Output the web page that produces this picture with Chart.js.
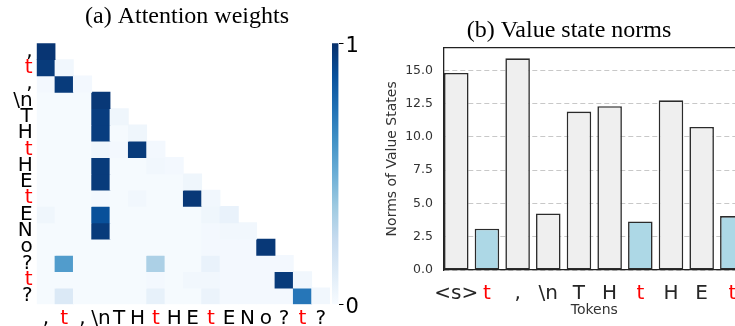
<!DOCTYPE html>
<html>
<head>
<meta charset="utf-8">
<script src="https://cdn.jsdelivr.net/npm/chart.js@4.4.1/dist/chart.umd.min.js"></script>
<style>
  html, body { margin: 0; padding: 0; background: #fff; overflow: hidden; width: 735px; height: 326px; }
  canvas { position: absolute; top: 0; }
</style>
</head>
<body>
<canvas id="heat" width="374" height="326" style="left:0px"></canvas>
<canvas id="cbar" width="74" height="326" style="left:300px"></canvas>
<canvas id="bars" width="390" height="326" style="left:374px"></canvas>
<script>
// ---------- data ----------
const heatTokens = [',', 't', ',', '\\n', 'T', 'H', 't', 'H', 'E', 't', 'E', 'N', 'o', '?', 't', '?'];
// lower-triangular attention rows (row i = query token i, columns 0..i)
const attnRows = [
  [0.98],
  [0.96, 0.03],
  [0.02, 0.96, 0.02],
  [0.01, 0.01, 0.01, 0.97],
  [0.01, 0.01, 0.01, 0.95, 0.04],
  [0.01, 0.01, 0.01, 0.95, 0.01, 0.04],
  [0.01, 0.01, 0.01, 0.04, 0.02, 0.96, 0.02],
  [0.01, 0.01, 0.01, 0.96, 0.01, 0.01, 0.03, 0.02],
  [0.01, 0.01, 0.01, 0.96, 0.01, 0.01, 0.01, 0.01, 0.04],
  [0.01, 0.01, 0.01, 0.02, 0.01, 0.03, 0.01, 0.01, 0.97, 0.03],
  [0.04, 0.01, 0.01, 0.88, 0.01, 0.01, 0.01, 0.01, 0.01, 0.04, 0.07],
  [0.01, 0.01, 0.01, 0.96, 0.01, 0.01, 0.01, 0.01, 0.01, 0.02, 0.03, 0.03],
  [0.01, 0.01, 0.01, 0.01, 0.01, 0.01, 0.01, 0.01, 0.01, 0.02, 0.02, 0.02, 0.97],
  [0.01, 0.58, 0.01, 0.01, 0.01, 0.01, 0.33, 0.01, 0.01, 0.07, 0.02, 0.02, 0.02, 0.02],
  [0.01, 0.01, 0.01, 0.01, 0.01, 0.01, 0.02, 0.01, 0.03, 0.03, 0.02, 0.02, 0.02, 0.96, 0.03],
  [0.01, 0.14, 0.01, 0.01, 0.01, 0.01, 0.08, 0.01, 0.01, 0.06, 0.02, 0.02, 0.02, 0.02, 0.73, 0.03]
];
const cbarTicks = [0, 1];

const barTokens = ['<s>', 't', ',', '\\n', 'T', 'H', 't', 'H', 'E', 't'];
const valueNorms = [14.8, 3.1, 15.9, 4.25, 11.9, 12.3, 3.65, 12.75, 10.75, 4.05];
const normTicks = [0, 2.5, 5, 7.5, 10, 12.5, 15];

// ---------- styling helpers ----------
const RED = '#ff0000';
const BLUES = [
  [0.0, [247, 251, 255]], [0.125, [222, 235, 247]], [0.25, [198, 219, 239]],
  [0.375, [158, 202, 225]], [0.5, [107, 174, 214]], [0.625, [66, 146, 198]],
  [0.75, [33, 113, 181]], [0.875, [8, 81, 156]], [1.0, [8, 48, 107]]
];
function blues(v) {
  v = Math.max(0, Math.min(1, v));
  for (let i = 1; i < BLUES.length; i++) {
    if (v <= BLUES[i][0]) {
      const [a, ca] = BLUES[i - 1], [b, cb] = BLUES[i];
      const t = (v - a) / (b - a);
      const c = ca.map((x, k) => Math.round(x + (cb[k] - x) * t));
      return `rgb(${c[0]},${c[1]},${c[2]})`;
    }
  }
  return 'rgb(8,48,107)';
}
Chart.defaults.font.family = 'DejaVu Sans';
Chart.defaults.color = '#000';

// spacer axis used to reserve room on the right without shifting the title centre
const spacer = (w) => ({
  type: 'linear', position: 'right', min: 0, max: 1,
  grid: { display: false, drawTicks: false }, border: { display: false },
  ticks: { display: false },
  afterFit: (s) => { s.width = w; }
});

// ---------- (a) heatmap ----------
const heatDatasets = attnRows.map((row, r) => ({
  data: heatTokens.map((_, c) => (c < row.length ? [r, r + 1] : null)),
  backgroundColor: heatTokens.map((_, c) => (c < row.length ? blues(row[c]) : 'rgba(0,0,0,0)')),
  borderWidth: 0,
  inflateAmount: 0.4,
  barPercentage: 1,
  categoryPercentage: 1,
  grouped: false
}));

new Chart(document.getElementById('heat'), {
  type: 'bar',
  data: { labels: heatTokens, datasets: heatDatasets },
  options: {
    responsive: false, animation: false,
    layout: { padding: 0 },
    plugins: {
      legend: { display: false }, tooltip: { enabled: false },
      title: {
        display: true, text: '(a) Attention weights', color: '#000',
        font: { family: 'Liberation Serif', size: 24, weight: 'normal' },
        padding: { top: 2.3, bottom: 12.2 }
      }
    },
    scales: {
      x: {
        type: 'category',
        grid: { display: false, drawTicks: false }, border: { display: false },
        ticks: {
          autoSkip: false, maxRotation: 0, minRotation: 0, padding: 2,
          font: { size: 20 },
          color: (ctx) => (heatTokens[ctx.index] === 't' ? RED : '#000')
        },
        afterFit: (s) => { s.height = 21.7; }
      },
      y: {
        type: 'linear', min: 0, max: heatTokens.length, reverse: true,
        grid: { display: false, drawTicks: false }, border: { display: false },
        afterBuildTicks: (s) => { s.ticks = heatTokens.map((_, i) => ({ value: i + 0.5 })); },
        ticks: {
          autoSkip: false, padding: 4, font: { size: 20 },
          callback: (v, i) => heatTokens[i],
          color: (ctx) => (heatTokens[ctx.index] === 't' ? RED : '#000')
        },
        afterFit: (s) => { s.width = 36.7; }
      },
      yr: spacer(44)
    }
  }
});

// ---------- colorbar ----------
new Chart(document.getElementById('cbar'), {
  type: 'bar',
  data: {
    labels: [''],
    datasets: [{
      data: [[cbarTicks[0], cbarTicks[1]]],
      borderWidth: 0, barPercentage: 1, categoryPercentage: 1,
      backgroundColor: (ctx) => {
        const { chart } = ctx;
        const area = chart.chartArea;
        if (!area) return 'rgb(107,174,214)';
        const g = chart.ctx.createLinearGradient(0, area.bottom, 0, area.top);
        BLUES.forEach(([p, c]) => g.addColorStop(p, `rgb(${c[0]},${c[1]},${c[2]})`));
        return g;
      }
    }]
  },
  options: {
    responsive: false, animation: false,
    layout: { padding: { left: 32, right: 0, top: 43.3, bottom: 21.7 } },
    plugins: { legend: { display: false }, tooltip: { enabled: false } },
    scales: {
      x: { display: false },
      y: {
        position: 'right', min: 0, max: 1,
        afterBuildTicks: (s) => { s.ticks = cbarTicks.map((v) => ({ value: v })); },
        grid: { display: true, drawOnChartArea: false, drawTicks: true, tickLength: 5, color: '#000', lineWidth: 1 },
        border: { display: false },
        ticks: { font: { size: 21 }, padding: 2, labelOffset: 3, color: '#000', callback: (v) => String(v) },
        afterFit: (s) => { s.width = 35.5; }
      }
    }
  }
});

// ---------- (b) value state norms ----------
new Chart(document.getElementById('bars'), {
  type: 'bar',
  data: {
    datasets: [{
      data: valueNorms.map((v, i) => ({ x: i, y: v })),
      backgroundColor: barTokens.map((t) => (t === 't' ? '#add8e6' : '#efefef')),
      borderColor: '#2b2b2b',
      borderWidth: 1.6,
      borderSkipped: false,
      barPercentage: 0.8,
      categoryPercentage: 1
    }]
  },
  options: {
    responsive: false, animation: false,
    layout: { padding: 0 },
    plugins: {
      legend: { display: false }, tooltip: { enabled: false },
      title: {
        display: true, text: '(b) Value state norms', color: '#000',
        font: { family: 'Liberation Serif', size: 24, weight: 'normal' },
        padding: { top: 16.6, bottom: 2.3 }
      }
    },
    scales: {
      x: {
        type: 'linear', min: -0.4, max: barTokens.length - 0.6, offset: false,
        afterBuildTicks: (s) => { s.ticks = barTokens.map((_, i) => ({ value: i })); },
        grid: { display: false, drawTicks: false },
        border: { display: true, color: '#222', width: 1.3 },
        ticks: {
          autoSkip: false, maxRotation: 0, minRotation: 0, padding: 11.5,
          font: { size: 20 },
          callback: (v, i) => barTokens[i],
          color: (ctx) => (barTokens[ctx.index] === 't' ? RED : '#262626')
        },
        title: { display: true, text: 'Tokens', color: '#333', font: { size: 14 }, padding: { top: 0, bottom: 6.8 } },
        afterFit: (s) => { s.height = 56; }
      },
      x2: {
        type: 'linear', position: 'top', min: 0, max: 1,
        grid: { display: false, drawTicks: false },
        border: { display: true, color: '#222', width: 1.3 },
        ticks: { display: false },
        afterFit: (s) => { s.height = 0; }
      },
      y: {
        type: 'linear', min: 0, max: 16.7,
        afterBuildTicks: (s) => { s.ticks = normTicks.map((v) => ({ value: v })); },
        grid: { display: true, color: '#c8c8c8', lineWidth: 1, drawTicks: false },
        border: { display: true, color: '#222', width: 1.3, dash: [5, 3] },
        ticks: { font: { size: 12.5 }, color: '#333', padding: 11, callback: (v) => v.toFixed(1) },
        title: { display: true, text: 'Norms of Value States', color: '#333', font: { size: 14 }, padding: { top: 10.1, bottom: 0 } },
        afterFit: (s) => { s.width = 70; }
      },
      yr: spacer(19.4)
    }
  }
});
</script>
</body>
</html>
